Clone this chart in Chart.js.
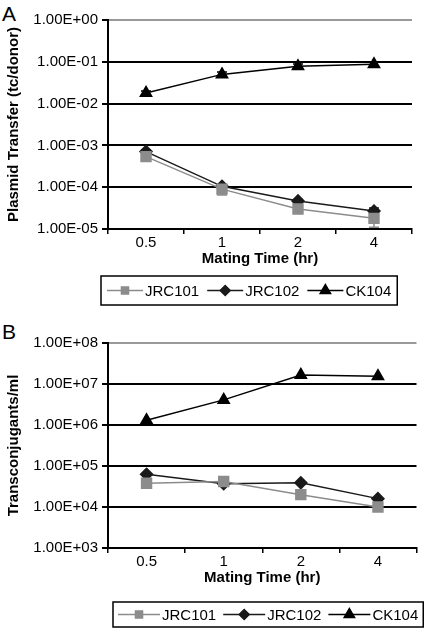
<!DOCTYPE html>
<html>
<head>
<meta charset="utf-8">
<script src="https://cdn.jsdelivr.net/npm/chart.js@4.4.1/dist/chart.umd.min.js"></script>
<style>
  body { margin: 0; background: #fff; width: 425px; height: 628px; position: relative; overflow: hidden; }
  canvas { position: absolute; left: 0; }
  .panel { position: absolute; left: 2px; font: 21px "Liberation Sans", Arial, sans-serif; color: #000; }
</style>
</head>
<body>
<div class="panel" style="top:2px">A</div>
<div class="panel" style="top:320px">B</div>
<canvas id="chartA" width="425" height="310" style="top:0"></canvas>
<canvas id="chartB" width="425" height="318" style="top:310px"></canvas>
<script>
// shared categories
const times = ["0.5", "1", "2", "4"];
const seriesNames = ["JRC101", "JRC102", "CK104"];

// panel A - plasmid transfer (tc/donor)
const ticksA = [1e-5, 1e-4, 1e-3, 1e-2, 1e-1, 1];
const jrc101A = [5.4e-4, 9e-5, 3e-5, 1.8e-5];
const jrc102A = [7.1e-4, 1.05e-4, 4.7e-5, 2.7e-5];
const ck104A = [1.8e-2, 5e-2, 7.8e-2, 8.7e-2];
// error bars (low / high)
const jrc101ALo = [4.8e-4, 6.5e-5, 2.7e-5, 1.1e-5];
const jrc101AHi = [6e-4, 1.15e-4, 3.3e-5, 2.5e-5];
const jrc102ALo = [6.5e-4, 9.2e-5, 4.3e-5, 2.2e-5];
const jrc102AHi = [7.8e-4, 1.15e-4, 5.1e-5, 3.2e-5];
const ck104ALo = [1.6e-2, 4.4e-2, 7e-2, 7.5e-2];
const ck104AHi = [2e-2, 5.7e-2, 8.8e-2, 9.8e-2];

// panel B - transconjugants/ml
const ticksB = [1e3, 1e4, 1e5, 1e6, 1e7, 1e8];
const jrc101B = [3.8e4, 4.2e4, 2e4, 1e4];
const jrc102B = [6.3e4, 3.7e4, 3.9e4, 1.6e4];
const ck104B = [1.3e6, 4.1e6, 1.66e7, 1.55e7];

Chart.defaults.font.family = "'Liberation Sans', Arial, sans-serif";
Chart.defaults.font.size = 15;
Chart.defaults.color = "#000";

const grey = "#8c8c8c";
const styles = [
  { color: grey, fill: grey, point: "rect", radius: 7, legendRadius: 5 },
  { color: "#1a1a1a", fill: "#1a1a1a", point: "rectRot", radius: 6, legendRadius: 5 },
  { color: "#000", fill: "#000", point: "triangle", radius: 6.5, legendRadius: 6 },
];

function sci(v) {
  const e = Math.round(Math.log10(v));
  const m = v / Math.pow(10, e);
  return m.toFixed(2) + "E" + (e < 0 ? "-" : "+") + String(Math.abs(e)).padStart(2, "0");
}

// error bars drawn under the markers
const errorBars = {
  id: "errorBars",
  beforeDatasetsDraw(chart) {
    const ctx = chart.ctx;
    const y = chart.scales.y;
    chart.data.datasets.forEach((ds, i) => {
      if (!ds.errLo) return;
      const meta = chart.getDatasetMeta(i);
      ctx.save();
      ctx.strokeStyle = ds.borderColor;
      ctx.lineWidth = 1.5;
      meta.data.forEach((pt, j) => {
        const yLo = y.getPixelForValue(ds.errLo[j]);
        const yHi = y.getPixelForValue(ds.errHi[j]);
        ctx.beginPath();
        ctx.moveTo(pt.x, yLo); ctx.lineTo(pt.x, yHi);
        ctx.moveTo(pt.x - 5, yLo); ctx.lineTo(pt.x + 5, yLo);
        ctx.moveTo(pt.x - 5, yHi); ctx.lineTo(pt.x + 5, yHi);
        ctx.stroke();
      });
      ctx.restore();
    });
  },
};

// boxed legend with line + marker samples
const boxLegend = {
  id: "boxLegend",
  afterDraw(chart, args, opts) {
    const ctx = chart.ctx;
    ctx.save();
    ctx.font = "15px 'Liberation Sans', Arial, sans-serif";
    ctx.textBaseline = "middle";
    const cy = opts.top + opts.height / 2;
    let x = opts.left + opts.pad;
    chart.data.datasets.forEach((ds, i) => {
      const st = styles[i];
      ctx.strokeStyle = st.color;
      ctx.lineWidth = 1.5;
      ctx.beginPath();
      ctx.moveTo(x, cy); ctx.lineTo(x + opts.lineLen, cy);
      ctx.stroke();
      ctx.fillStyle = st.fill;
      Chart.helpers.drawPoint(ctx, { pointStyle: st.point, radius: st.legendRadius, borderWidth: 1 }, x + opts.lineLen / 2, cy);
      ctx.fill();
      x += opts.lineLen + 2;
      ctx.fillStyle = "#000";
      ctx.fillText(ds.label, x, cy + 1);
      x += ctx.measureText(ds.label).width + opts.gap;
    });
    const right = x - opts.gap + opts.pad;
    ctx.strokeStyle = "#000";
    ctx.lineWidth = 1.5;
    ctx.strokeRect(opts.left, opts.top, right - opts.left, opts.height);
    ctx.restore();
  },
};

function makeChart(id, values, lows, highs, yTicks, yTitle, layout, legendOpts) {
  const datasets = values.map((vals, i) => ({
    label: seriesNames[i],
    data: vals,
    errLo: lows ? lows[i] : null,
    errHi: highs ? highs[i] : null,
    borderColor: styles[i].color,
    backgroundColor: styles[i].fill,
    pointBackgroundColor: styles[i].fill,
    pointBorderColor: styles[i].color,
    pointStyle: styles[i].point,
    pointRadius: styles[i].radius,
    borderWidth: 1.5,
    tension: 0,
  }));
  return new Chart(document.getElementById(id).getContext("2d"), {
    type: "line",
    data: { labels: times, datasets: datasets },
    options: {
      responsive: false,
      animation: false,
      layout: { padding: layout.padding },
      plugins: { legend: { display: false }, tooltip: { enabled: false }, boxLegend: legendOpts },
      scales: {
        x: {
          offset: true,
          grid: { offset: true, drawOnChartArea: false, tickLength: 5, color: "#000", lineWidth: 1.5 },
          border: { color: "#000", width: 2 },
          ticks: { padding: 0, font: { size: 15 } },
          title: { display: true, text: "Mating Time (hr)", font: { size: 15, weight: "bold" }, padding: { top: 2, bottom: 1 } },
          afterFit: (s) => { s.height = layout.xHeight; },
        },
        y: {
          type: "logarithmic",
          min: yTicks[0],
          max: yTicks[yTicks.length - 1],
          afterBuildTicks: (s) => { s.ticks = yTicks.map((v) => ({ value: v })); },
          grid: {
            color: (c) => (c.tick && c.tick.value === yTicks[yTicks.length - 1] ? "#999" : "#000"),
            tickColor: "#000",
            lineWidth: 2,
            tickLength: 6,
          },
          border: { color: "#000", width: 2 },
          ticks: { padding: 4, font: { size: 15 }, callback: (v) => sci(v) },
          title: { display: true, text: yTitle, font: { size: 15, weight: "bold" }, padding: { top: 5, bottom: 0 } },
          afterFit: (s) => { s.width = 108; },
        },
      },
    },
    plugins: [errorBars, boxLegend],
  });
}

makeChart(
  "chartA",
  [jrc101A, jrc102A, ck104A],
  [jrc101ALo, jrc102ALo, ck104ALo],
  [jrc101AHi, jrc102AHi, ck104AHi],
  ticksA,
  "Plasmid Transfer (tc/donor)",
  { padding: { top: 20, right: 13, bottom: 41, left: 0 }, xHeight: 40 },
  { left: 101, top: 276, height: 29, pad: 6, lineLen: 36, gap: 8 }
);

makeChart(
  "chartB",
  [jrc101B, jrc102B, ck104B],
  null,
  null,
  ticksB,
  "Transconjugants/ml",
  { padding: { top: 33, right: 1, bottom: 40, left: 0 }, xHeight: 40 },
  { left: 113, top: 292, height: 25, pad: 5, lineLen: 42, gap: 7 }
);
</script>
</body>
</html>
